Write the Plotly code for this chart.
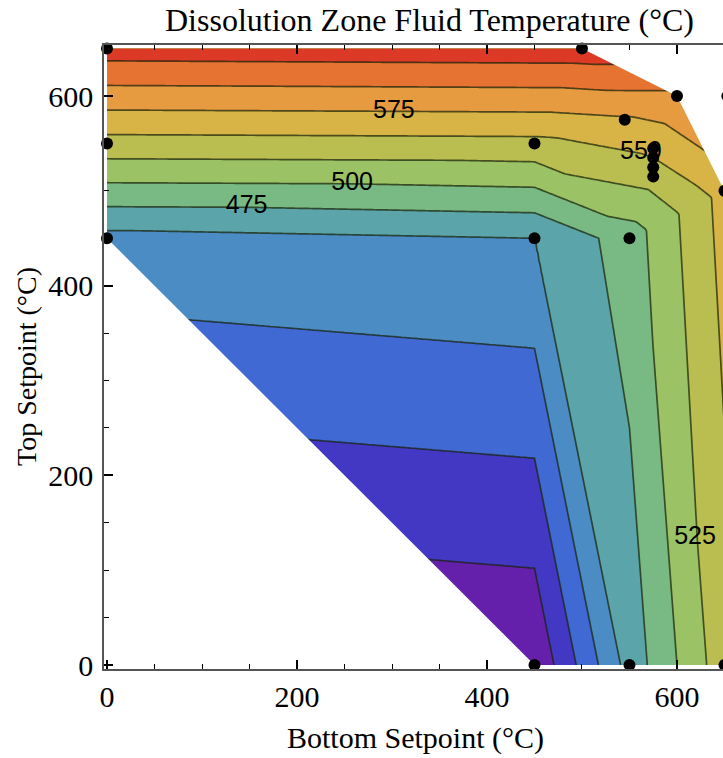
import numpy as np
import plotly.graph_objects as go

# ---------------- data ----------------
# measured points: bottom setpoint (°C), top setpoint (°C), fluid temperature (°C)
bottom_sp = [0, 0, 0, 450, 450, 450, 500, 545, 550, 550, 575, 575, 575, 575, 600, 650, 650]
top_sp = [450, 550, 650, 0, 450, 550, 650, 575, 0, 450, 515, 525, 535, 545, 600, 0, 500]
fluid_t = [442, 541, 637.5, 353, 450, 543, 640, 572, 460, 487, 535, 542.5, 550, 557, 595, 540, 560]

# additional marker shown at the right edge
extra_bottom = [653]
extra_top = [600]

# triangulation of the measured points (index triples)
triangles = [
    (0, 3, 4), (0, 4, 5), (0, 5, 1), (1, 5, 2), (2, 5, 6), (5, 7, 6), (6, 7, 14),
    (7, 13, 14), (5, 10, 7), (7, 10, 11), (7, 11, 12), (7, 12, 13), (4, 9, 5),
    (5, 9, 10), (3, 8, 4), (4, 8, 9), (8, 15, 9), (9, 15, 16), (9, 16, 10),
    (10, 16, 11), (11, 16, 12), (12, 16, 13), (13, 16, 14),
]
# hull corners used for blanking outside the measured region
lower_hull = [3, 0]
upper_hull = [6, 14, 16]

level_start, level_end, level_step = 375, 625, 25
band_colors = ["#6420AA", "#4338C4", "#4169D3", "#4B8CC4", "#5BA5AA", "#79B983",
               "#9BC365", "#BABE51", "#D8B446", "#E69B41", "#E67332", "#DC3A26"]

label_x = [147, 258, 302, 562, 619]
label_y = [483, 508, 583, 540, 134]
label_text = ["475", "500", "575", "550", "525"]

x_ticks = [0, 200, 400, 600]
y_ticks = [0, 200, 400, 600]

# ---------------- piecewise-linear interpolation on the triangles ----------------
P = np.column_stack([bottom_sp, top_sp]).astype(float)
Zp = np.array(fluid_t, float)
gx = np.arange(0, 650.001, 2.5)
gy = np.arange(0, 650.001, 2.5)
X, Y = np.meshgrid(gx, gy)
best = np.full(X.shape, -np.inf)
zgrid = np.zeros(X.shape)
for i, j, k in triangles:
    (x1, y1), (x2, y2), (x3, y3) = P[i], P[j], P[k]
    det = (y2 - y3) * (x1 - x3) + (x3 - x2) * (y1 - y3)
    l1 = ((y2 - y3) * (X - x3) + (x3 - x2) * (Y - y3)) / det
    l2 = ((y3 - y1) * (X - x3) + (x1 - x3) * (Y - y3)) / det
    l3 = 1 - l1 - l2
    m = np.minimum(np.minimum(l1, l2), l3)
    zt = l1 * Zp[i] + l2 * Zp[j] + l3 * Zp[k]
    upd = m > best
    zgrid[upd] = zt[upd]
    best[upd] = m[upd]
zgrid = np.round(zgrid, 2)

n = len(band_colors)
colorscale = [[k / (n - 1), c] for k, c in enumerate(band_colors)]

fig = go.Figure()
fig.add_trace(go.Contour(
    x=gx, y=gy, z=zgrid,
    autocontour=False,
    contours=dict(start=level_start, end=level_end, size=level_step, coloring="fill", showlines=True),
    colorscale=colorscale, showscale=False,
    line=dict(color="rgba(25,35,10,0.72)", width=1.7, smoothing=0),
    hoverinfo="skip",
))

# blank the regions outside the measured hull
pad = 40
lx = [P[lower_hull[0], 0], P[lower_hull[1], 0], P[lower_hull[1], 0] - pad,
      P[lower_hull[1], 0] - pad, P[lower_hull[0], 0]]
ly = [P[lower_hull[0], 1], P[lower_hull[1], 1], P[lower_hull[1], 1],
      P[lower_hull[0], 1] - pad, P[lower_hull[0], 1] - pad]
ux = [P[h, 0] for h in upper_hull]
uy = [P[h, 1] for h in upper_hull]
ux += [ux[-1] + pad, ux[-1] + pad, ux[0]]
uy += [uy[-1], uy[0] + pad, uy[0] + pad]
for mx, my in ((lx, ly), (ux, uy)):
    fig.add_trace(go.Scatter(x=mx, y=my, mode="lines", fill="toself", fillcolor="white",
                             line=dict(width=0, color="white"), hoverinfo="skip", showlegend=False))

fig.add_trace(go.Scatter(x=label_x, y=label_y, text=label_text, mode="text",
                         textfont=dict(family="Liberation Sans, Arial", size=25, color="black"),
                         hoverinfo="skip", showlegend=False))

fig.add_trace(go.Scatter(x=bottom_sp + extra_bottom, y=top_sp + extra_top, mode="markers",
                         marker=dict(size=12, color="black"), cliponaxis=False,
                         hoverinfo="skip", showlegend=False))

serif = "Liberation Serif, Times New Roman, serif"
axis_common = dict(
    showline=True, linecolor="#555555", linewidth=1.5, showgrid=False, zeroline=False,
    ticks="inside", ticklen=9, tickwidth=1.6, tickcolor="black",
    minor=dict(dtick=50, ticks="inside", ticklen=5, tickwidth=1.4, tickcolor="black"),
    tickfont=dict(family=serif, size=30, color="black"),
)
# the figure is slightly wider than the window: the right edge of the frame is cut off, as in the reference
fig_w, fig_h = 730, 758
fig.update_layout(
    width=fig_w, height=fig_h,
    margin=dict(l=104, r=0, t=45, b=89),
    plot_bgcolor="white", paper_bgcolor="white",
    showlegend=False,
    xaxis=dict(range=[-3.16, 655.8], tickvals=x_ticks, mirror="ticks", ticklabelstandoff=0, **axis_common),
    yaxis=dict(range=[-4.22, 653.8], tickvals=y_ticks, mirror=False, ticklabelstandoff=3, **axis_common),
    annotations=[
        dict(text="Dissolution Zone Fluid Temperature (°C)", x=0.520, y=1.040, xref="paper", yref="paper",
             xanchor="center", yanchor="middle", showarrow=False, font=dict(family=serif, size=32, color="black")),
        dict(text="Bottom Setpoint (°C)", x=0.498, y=-0.1106, xref="paper", yref="paper",
             xanchor="center", yanchor="middle", showarrow=False, font=dict(family=serif, size=30, color="black")),
        dict(text="Top Setpoint (°C)", x=-0.123, y=0.484, xref="paper", yref="paper", textangle=-90,
             xanchor="center", yanchor="middle", showarrow=False, font=dict(family=serif, size=28, color="black")),
    ],
)
fig.write_html("out.html", config={"displayModeBar": False},
               post_script="document.body.style.margin='0';document.body.style.overflow='hidden';")
